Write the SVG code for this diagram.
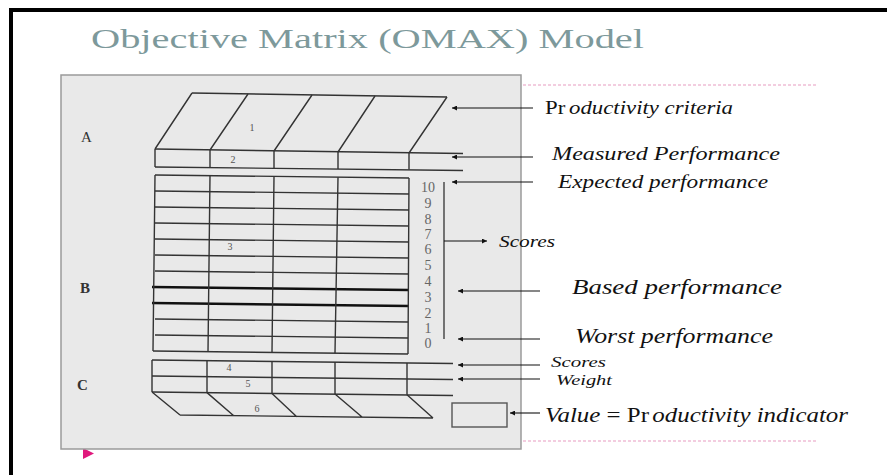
<svg xmlns="http://www.w3.org/2000/svg" width="887" height="475" viewBox="0 0 887 475">
<defs>
<marker id="ah" viewBox="0 0 10 10" refX="10" refY="5" markerWidth="7" markerHeight="5" orient="auto-start-reverse" markerUnits="userSpaceOnUse">
<path d="M0,0 L10,5 L0,10 z" fill="#111"/>
</marker>
<style>
.ln{stroke:#333;stroke-width:1.4;fill:none}
.thk{stroke:#111;stroke-width:2.4;fill:none}
.num{font-family:"Liberation Serif",serif;font-size:14px;fill:#666;text-anchor:middle}
.idx{font-family:"Liberation Serif",serif;font-size:10px;fill:#555;text-anchor:middle}
.lbl{font-family:"Liberation Serif",serif;fill:#111;font-style:italic}
.rom{font-style:normal}
.sec{font-family:"Liberation Serif",serif;font-size:15px;fill:#333}
.conn{stroke:#111;stroke-width:1.1;fill:none}
</style>
</defs>
<rect width="887" height="475" fill="#fff"/>
<path d="M11,475 V10 H887" stroke="#000" stroke-width="4" fill="none"/>
<g id="title">
<text x="91" y="48" font-family="'Liberation Serif',serif" font-size="28" fill="#7d999b" textLength="553" lengthAdjust="spacingAndGlyphs">Objective Matrix (OMAX) Model</text>
</g>
<g id="guides">
<line x1="523" y1="85" x2="818" y2="85" stroke="#e79bc0" stroke-width="1" stroke-dasharray="3,2"/>
<line x1="523" y1="441" x2="818" y2="441" stroke="#e79bc0" stroke-width="1" stroke-dasharray="3,2"/>
<path d="M83,448 L94,453.5 L83,459 z" fill="#e0197d"/>
</g>
<g id="panel">
<rect x="61" y="75" width="460" height="374" fill="#e9e9e9" stroke="#9a9a9a" stroke-width="1.5"/>
<text class="sec" x="81" y="142">A</text>
<text class="sec" x="80" y="293" font-weight="bold">B</text>
<text class="sec" x="77" y="390" font-weight="bold">C</text>
</g>
<g id="box-a">
<path class="ln" d="M192,93 L447,97"/>
<path class="ln" d="M155,149 L463,153.5"/>
<path class="ln" d="M155,167 L463,170.5"/>
<path class="ln" d="M155,149 L192,93 M210,150 L248,94 M274,151 L312,95 M338,152 L375,96 M409,153 L447,97"/>
<path class="ln" d="M155,149 V167 M210,150 V168 M274,151 V168 M338,152 V169 M409,153 V169.5"/>
<text class="idx" x="252" y="131">1</text>
<text class="idx" x="233" y="163">2</text>
</g>
<g id="grid-b">
<path class="ln" d="M155,175 L409,178 M155,191 L409,194 M155,207 L409,210 M155,223 L409,226 M155,239 L409,242 M155,255 L409,258 M155,271 L409,274 M155,319 L408,322 M155,335 L408,338 M153,351 L408,354"/>
<path class="thk" d="M152,287 L409,290 M152,303 L409,306"/>
<path class="ln" d="M155,175 L153,351 M210,175.6 L208,351.6 M274,176.4 L272,352.4 M338,177.2 L335,353.2 M409,178 L408,354"/>
<text class="idx" x="230" y="250">3</text>
<text class="num" x="428" y="192">10</text>
<text class="num" x="428" y="208">9</text>
<text class="num" x="428" y="224">8</text>
<text class="num" x="428" y="239">7</text>
<text class="num" x="428" y="254">6</text>
<text class="num" x="428" y="270">5</text>
<text class="num" x="428" y="286">4</text>
<text class="num" x="428" y="302">3</text>
<text class="num" x="428" y="318">2</text>
<text class="num" x="428" y="333">1</text>
<text class="num" x="428" y="348">0</text>
</g>
<g id="table-c">
<path class="ln" d="M152,360 L453,363.5 M152,376 L453,379.5 M152,392 L453,395.5"/>
<path class="ln" d="M152,360 V392 M207,360.6 V392.6 M272,361.4 V393.4 M335,362 V394 M407,363 V394.8"/>
<path class="ln" d="M152,392 L180,415 M207,392.6 L234,416 M272,393.4 L297,417 M335,394 L362,417 M407,394.8 L433,418 M180,415 L433,418"/>
<text class="idx" x="229" y="371">4</text>
<text class="idx" x="248" y="387">5</text>
<text class="idx" x="257" y="412">6</text>
</g>
<g id="value-box">
<rect x="452" y="403" width="55" height="24" fill="none" stroke="#555" stroke-width="1.4"/>
</g>
<g id="connectors">
<line class="conn" x1="533" y1="108" x2="452" y2="108" marker-end="url(#ah)"/>
<line class="conn" x1="533" y1="157" x2="452" y2="157" marker-end="url(#ah)"/>
<line class="conn" x1="533" y1="182" x2="452" y2="182" marker-end="url(#ah)"/>
<line class="conn" x1="444" y1="182" x2="444" y2="339"/>
<line class="conn" x1="444" y1="241" x2="487" y2="241" marker-end="url(#ah)"/>
<line class="conn" x1="540" y1="291" x2="458" y2="291" marker-end="url(#ah)"/>
<line class="conn" x1="540" y1="339" x2="458" y2="339" marker-end="url(#ah)"/>
<line class="conn" x1="540" y1="365" x2="458" y2="365" marker-end="url(#ah)"/>
<line class="conn" x1="540" y1="379" x2="458" y2="379" marker-end="url(#ah)"/>
<line class="conn" x1="540" y1="413" x2="510" y2="413" marker-end="url(#ah)"/>
</g>
<g id="labels">
<text class="lbl" x="545" y="114" font-size="18" textLength="188" lengthAdjust="spacingAndGlyphs"><tspan class="rom">Pr</tspan><tspan dx="3">oductivity criteria</tspan></text>
<text class="lbl" x="552" y="160" font-size="19" textLength="228" lengthAdjust="spacingAndGlyphs">Measured Performance</text>
<text class="lbl" x="558" y="188" font-size="18" textLength="210" lengthAdjust="spacingAndGlyphs">Expected  performance</text>
<text class="lbl" x="499" y="247" font-size="16" textLength="56" lengthAdjust="spacingAndGlyphs">Scores</text>
<text class="lbl" x="572" y="294" font-size="21" textLength="210" lengthAdjust="spacingAndGlyphs">Based  performance</text>
<text class="lbl" x="575" y="343" font-size="21" textLength="198" lengthAdjust="spacingAndGlyphs">Worst  performance</text>
<text class="lbl" x="551" y="367" font-size="15" textLength="55" lengthAdjust="spacingAndGlyphs">Scores</text>
<text class="lbl" x="556" y="385" font-size="15" textLength="56" lengthAdjust="spacingAndGlyphs">Weight</text>
<text class="lbl" x="545" y="422" font-size="22" textLength="303" lengthAdjust="spacingAndGlyphs">Value<tspan class="rom"> = Pr</tspan><tspan dx="3">oductivity  indicator</tspan></text>
</g>
</svg>
